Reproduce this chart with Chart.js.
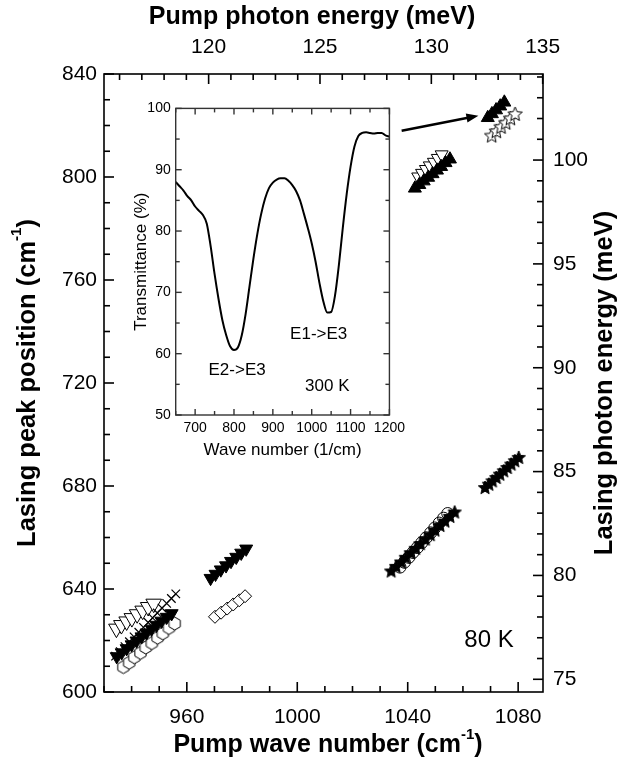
<!DOCTYPE html>
<html>
<head>
<meta charset="utf-8">
<script src="https://cdn.jsdelivr.net/npm/chart.js@4.4.1/dist/chart.umd.min.js"></script>
<style>
  html, body { margin: 0; padding: 0; background: #fff; }
  #wrap { position: relative; width: 621px; height: 764px; }
  #main { position: absolute; left: 0; top: 0; }
  #inset { position: absolute; left: 120px; top: 95px; }
</style>
</head>
<body>
<div id="wrap">
  <canvas id="main" width="621" height="764"></canvas>
  <canvas id="inset" width="290" height="375"></canvas>
</div>
<script>
const cmToMeV = 0.12398

// pump wave number (cm-1) -> lasing peak (cm-1), 80 K
const hexX = [937.0, 939.1, 941.0, 943.2, 945.1, 947.3, 949.4, 951.3, 953.5, 955.6]
const hexY = [609.7, 611.4, 613.5, 615.2, 617.3, 619.0, 621.1, 622.8, 624.9, 626.6]
const downFilledAX = [934.6, 936.4, 938.2, 940.0, 941.8, 943.6, 945.4, 947.2, 949.0, 950.8, 952.7, 954.5]
const downFilledAY = [613.8, 615.3, 616.9, 618.4, 619.9, 621.5, 623.0, 624.5, 626.0, 627.6, 629.1, 630.5]
const downOpenAX = [934.5, 936.3, 938.2, 940.1, 942.0, 944.0, 946.0, 948.0]
const downOpenAY = [624.6, 626.0, 627.4, 628.7, 630.2, 631.6, 633.0, 634.3]
const crossAX = [934.2, 935.9, 937.6, 939.2, 940.9, 942.6, 944.3, 946.0, 947.6, 949.3, 951.0, 952.7, 954.4, 956.0]
const crossAY = [613.9, 615.7, 617.6, 619.5, 621.4, 623.2, 625.1, 627.0, 628.8, 630.7, 632.6, 634.4, 636.3, 638.1]
const downFilledBX = [968.6, 970.4, 972.3, 974.2, 976.0, 977.9, 979.7, 981.5]
const downFilledBY = [644.2, 645.8, 647.5, 649.1, 650.8, 652.4, 654.0, 655.6]
const diamondX = [970.2, 972.4, 974.6, 976.8, 979.0, 981.1]
const diamondY = [629.2, 630.8, 632.4, 634.0, 635.6, 637.2]
const starCX = [1034.0, 1035.8, 1037.6, 1039.3, 1041.1, 1042.9, 1044.6, 1046.4, 1048.2, 1049.9, 1051.7, 1053.5, 1055.3, 1057.0]
const starCY = [647.2, 649.0, 650.7, 652.5, 654.3, 656.0, 657.8, 659.6, 661.3, 663.1, 664.9, 666.6, 668.4, 670.1]
const circleX = [1037.2, 1038.8, 1040.4, 1041.9, 1043.5, 1045.1, 1046.7, 1048.3, 1049.8, 1051.4, 1053.0, 1054.5]
const circleY = [648.5, 650.4, 652.3, 654.2, 656.1, 658.0, 659.9, 661.8, 663.7, 665.6, 667.5, 669.3]
const starDX = [1068.0, 1069.4, 1070.7, 1072.1, 1073.4, 1074.8, 1076.1, 1077.5, 1078.8, 1080.2]
const starDY = [679.6, 680.9, 682.2, 683.5, 684.8, 686.1, 687.4, 688.7, 690.0, 691.3]
const upEX = [1042.6, 1044.2, 1045.8, 1047.4, 1049.0, 1050.6, 1052.1, 1053.7, 1055.3]
const upEY = [795.6, 797.0, 798.4, 799.8, 801.2, 802.6, 804.0, 805.5, 806.9]
const downOpenEX = [1043.8, 1045.2, 1046.6, 1048.0, 1049.5, 1050.9, 1052.3]
const downOpenEY = [800.1, 801.5, 803.0, 804.4, 805.8, 807.3, 808.7]
const upFX = [1069.0, 1070.5, 1072.0, 1073.5, 1075.0]
const upFY = [823.0, 824.5, 826.0, 827.5, 829.0]
const starFX = [1070.4, 1072.1, 1073.8, 1075.5, 1077.2, 1078.9]
const starFY = [816.3, 818.0, 819.7, 821.3, 823.0, 824.7]
const arrowFrom = [1037.8, 818.0]
const arrowTo = [1065.6, 823.8]

const xTicks = [960, 1000, 1040, 1080]
const yTicks = [600, 640, 680, 720, 760, 800, 840]
const topTicks = [120, 125, 130, 135]
const rightTicks = [75, 80, 85, 90, 95, 100]

// inset: transmittance at 300 K
const waveNum = [650, 660, 670, 680, 690, 700, 710, 720, 730, 740, 750, 760, 770, 780, 790, 800,
  810, 820, 830, 840, 850, 860, 870, 880, 890, 900, 910, 920, 930, 940, 950, 960, 970, 980, 990,
  1000, 1010, 1020, 1030, 1040, 1050, 1060, 1070, 1080, 1090, 1100, 1110, 1120, 1130, 1140, 1150,
  1160, 1170, 1180, 1190, 1200]
const transmit = [88.0, 87.3, 86.6, 85.7, 85.0, 84.0, 83.3, 82.6, 81.2, 77.5, 73.0, 69.0, 65.5, 63.0, 61.2, 60.6,
  61.0, 63.0, 66.5, 71.0, 75.5, 79.5, 82.8, 85.3, 87.0, 87.9, 88.4, 88.6, 88.6, 88.2, 87.5, 86.5, 85.0, 82.8, 80.5,
  78.0, 75.0, 71.5, 68.5, 66.7, 66.8, 69.5, 74.5, 80.5, 86.0, 90.5, 93.8, 95.5, 96.0, 96.1, 96.0,
  95.9, 96.0, 96.0, 95.6, 95.4]
const insetXTicks = [700, 800, 900, 1000, 1100, 1200]
const insetYTicks = [50, 60, 70, 80, 90, 100]

const FONT = '"Liberation Sans", Arial, Helvetica, sans-serif'
Chart.defaults.font.family = FONT
Chart.defaults.color = '#000'

function pts(xs, ys) {
  return xs.map((x, i) => ({ x: x, y: ys[i] }))
}

function hexagon(r) {
  const c = document.createElement('canvas')
  const s = Math.ceil(2 * r + 4)
  c.width = c.height = s
  const g = c.getContext('2d')
  g.translate(s / 2, s / 2)
  g.beginPath()
  for (let i = 0; i < 6; i++) {
    const a = Math.PI / 3 * i + Math.PI / 6
    g.lineTo(r * Math.cos(a), r * Math.sin(a))
  }
  g.closePath()
  g.fillStyle = '#fff'
  g.fill()
  g.lineWidth = 1
  g.strokeStyle = '#000'
  g.stroke()
  return c
}

function star(r, filled) {
  const c = document.createElement('canvas')
  const s = Math.ceil(2 * r + 4)
  c.width = c.height = s
  const g = c.getContext('2d')
  g.translate(s / 2, s / 2 + 1)
  g.beginPath()
  for (let i = 0; i < 10; i++) {
    const rr = i % 2 ? r * 0.45 : r
    const a = -Math.PI / 2 + i * Math.PI / 5
    g.lineTo(rr * Math.cos(a), rr * Math.sin(a))
  }
  g.closePath()
  g.fillStyle = filled ? '#000' : '#fff'
  g.fill()
  g.lineWidth = 1
  g.strokeStyle = '#000'
  g.stroke()
  return c
}

function afterTicks(list) {
  return function (scale) { scale.ticks = list.map(v => ({ value: v })) }
}

// box with inward ticks on every side
function frameTicks(cfg) {
  return {
    id: 'frameTicks',
    afterDraw(chart) {
      const ctx = chart.ctx
      const a = chart.chartArea
      ctx.save()
      ctx.strokeStyle = cfg.color
      ctx.lineWidth = cfg.width
      for (const s of cfg.sides) {
        const scale = chart.scales[s.scale]
        const k0 = Math.ceil(s.from / s.minor - 1e-6)
        const k1 = Math.floor(s.to / s.minor + 1e-6)
        for (let k = k0; k <= k1; k++) {
          const v = k * s.minor
          const r = v / s.major
          const len = Math.abs(r - Math.round(r)) < 1e-6 ? cfg.majorLen : cfg.minorLen
          const p = scale.getPixelForValue(v)
          ctx.beginPath()
          if (s.edge === 'bottom') { ctx.moveTo(p, a.bottom); ctx.lineTo(p, a.bottom - len) }
          if (s.edge === 'top') { ctx.moveTo(p, a.top); ctx.lineTo(p, a.top + len) }
          if (s.edge === 'left') { ctx.moveTo(a.left, p); ctx.lineTo(a.left + len, p) }
          if (s.edge === 'right') { ctx.moveTo(a.right, p); ctx.lineTo(a.right - len, p) }
          ctx.stroke()
        }
      }
      ctx.strokeRect(a.left, a.top, a.right - a.left, a.bottom - a.top)
      ctx.restore()
    }
  }
}

function drawTitle(ctx, t, x0, y0) {
  ctx.save()
  ctx.translate(x0, y0)
  ctx.rotate(t.rot || 0)
  ctx.fillStyle = '#000'
  ctx.textBaseline = 'middle'
  ctx.textAlign = 'left'
  const big = (t.weight || 'bold') + ' ' + t.size + 'px ' + FONT
  const small = (t.weight || 'bold') + ' ' + Math.round(t.size * 0.6) + 'px ' + FONT
  ctx.font = big
  const w1 = ctx.measureText(t.text).width
  const w3 = t.tail ? ctx.measureText(t.tail).width : 0
  ctx.font = small
  const w2 = t.sup ? ctx.measureText(t.sup).width : 0
  let x = -(w1 + w2 + w3) / 2
  ctx.font = big
  ctx.fillText(t.text, x, 0)
  x += w1
  if (t.sup) {
    ctx.font = small
    ctx.fillText(t.sup, x, -t.size * 0.42)
    x += w2
  }
  if (t.tail) {
    ctx.font = big
    ctx.fillText(t.tail, x, 0)
  }
  ctx.restore()
}

function texts(items) {
  return {
    id: 'texts',
    afterDraw(chart) {
      for (const t of items) {
        let x = t.x, y = t.y
        if (t.at) {
          x = chart.scales.x.getPixelForValue(t.at[0])
          y = chart.scales.y.getPixelForValue(t.at[1])
        }
        drawTitle(chart.ctx, t, x, y)
      }
    }
  }
}

const arrow = {
  id: 'arrow',
  afterDatasetsDraw(chart) {
    const { ctx, scales } = chart
    const x1 = scales.x.getPixelForValue(arrowFrom[0]), y1 = scales.y.getPixelForValue(arrowFrom[1])
    const x2 = scales.x.getPixelForValue(arrowTo[0]), y2 = scales.y.getPixelForValue(arrowTo[1])
    const ang = Math.atan2(y2 - y1, x2 - x1)
    ctx.save()
    ctx.strokeStyle = '#000'
    ctx.fillStyle = '#000'
    ctx.lineWidth = 2.5
    ctx.beginPath()
    ctx.moveTo(x1, y1)
    ctx.lineTo(x2 - 8 * Math.cos(ang), y2 - 8 * Math.sin(ang))
    ctx.stroke()
    ctx.translate(x2, y2)
    ctx.rotate(ang)
    ctx.beginPath()
    ctx.moveTo(0, 0)
    ctx.lineTo(-12, -4.5)
    ctx.lineTo(-12, 4.5)
    ctx.closePath()
    ctx.fill()
    ctx.restore()
  }
}

const tickFont = { size: 21 }
const numLabel = v => String(v)

new Chart(document.getElementById('main'), {
  type: 'scatter',
  data: {
    datasets: [
      { data: pts(crossAX, crossAY), pointStyle: 'crossRot', pointRadius: 6, pointBorderColor: '#000', pointBorderWidth: 1.2 },
      { data: pts(downFilledAX, downFilledAY), pointStyle: 'triangle', pointRotation: 180, pointRadius: 7.5, pointBackgroundColor: '#000', pointBorderColor: '#000', pointBorderWidth: 1 },
      { data: pts(downOpenAX, downOpenAY), pointStyle: 'triangle', pointRotation: 180, pointRadius: 9, pointBackgroundColor: '#fff', pointBorderColor: '#000', pointBorderWidth: 1 },
      { data: pts(hexX, hexY), pointStyle: hexagon(6.5), pointBorderColor: '#000' },
      { data: pts(downFilledBX, downFilledBY), pointStyle: 'triangle', pointRotation: 180, pointRadius: 7.5, pointBackgroundColor: '#000', pointBorderColor: '#000', pointBorderWidth: 1 },
      { data: pts(diamondX, diamondY), pointStyle: 'rectRot', pointRadius: 6.5, pointBackgroundColor: '#fff', pointBorderColor: '#000', pointBorderWidth: 1 },
      { data: pts(circleX, circleY), pointStyle: 'circle', pointRadius: 6, pointBackgroundColor: 'rgba(0,0,0,0)', pointBorderColor: '#000', pointBorderWidth: 1 },
      { data: pts(starCX, starCY), pointStyle: star(7, true), pointBorderColor: '#000' },
      { data: pts(starDX, starDY), pointStyle: star(7, true), pointBorderColor: '#000' },
      { data: pts(upEX, upEY), pointStyle: 'triangle', pointRadius: 7.5, pointBackgroundColor: '#000', pointBorderColor: '#000', pointBorderWidth: 1 },
      { data: pts(downOpenEX, downOpenEY), pointStyle: 'triangle', pointRotation: 180, pointRadius: 7.5, pointBackgroundColor: '#fff', pointBorderColor: '#000', pointBorderWidth: 1 },
      { data: pts(upFX, upFY), pointStyle: 'triangle', pointRadius: 7.5, pointBackgroundColor: '#000', pointBorderColor: '#000', pointBorderWidth: 1 },
      { data: pts(starFX, starFY), pointStyle: star(7.5, false), pointBorderColor: '#000' }
    ]
  },
  options: {
    responsive: false,
    animation: false,
    events: [],
    layout: { padding: 0 },
    plugins: {
      legend: { display: false },
      tooltip: { enabled: false }
    },
    scales: {
      x: {
        type: 'linear', position: 'bottom', min: 930, max: 1089,
        afterBuildTicks: afterTicks(xTicks),
        afterFit: s => { s.height = 72 },
        grid: { display: false, drawTicks: false }, border: { display: false },
        ticks: { font: tickFont, padding: 13, autoSkip: false, maxRotation: 0, callback: numLabel }
      },
      x2: {
        type: 'linear', position: 'top', min: 930 * cmToMeV, max: 1089 * cmToMeV,
        afterBuildTicks: afterTicks(topTicks),
        afterFit: s => { s.height = 74 },
        grid: { display: false, drawTicks: false }, border: { display: false },
        ticks: { font: tickFont, padding: 14, autoSkip: false, maxRotation: 0, callback: numLabel }
      },
      y: {
        type: 'linear', position: 'left', min: 600, max: 840,
        afterBuildTicks: afterTicks(yTicks),
        afterFit: s => { s.width = 104 },
        grid: { display: false, drawTicks: false }, border: { display: false },
        ticks: { font: tickFont, padding: 7, autoSkip: false, callback: numLabel }
      },
      y2: {
        type: 'linear', position: 'right', min: 600 * cmToMeV, max: 840 * cmToMeV,
        afterBuildTicks: afterTicks(rightTicks),
        afterFit: s => { s.width = 78 },
        grid: { display: false, drawTicks: false }, border: { display: false },
        ticks: { font: tickFont, padding: 10, autoSkip: false, callback: numLabel }
      }
    }
  },
  plugins: [
    frameTicks({
      color: '#000', width: 1.6, majorLen: 10, minorLen: 6,
      sides: [
        { scale: 'x', edge: 'bottom', from: 930, to: 1089, major: 40, minor: 10 },
        { scale: 'y', edge: 'left', from: 600, to: 840, major: 40, minor: 10 },
        { scale: 'x2', edge: 'top', from: 116, to: 135, major: 5, minor: 1 },
        { scale: 'y2', edge: 'right', from: 75, to: 104, major: 5, minor: 1 }
      ]
    }),
    texts([
      { text: 'Pump photon energy (meV)', x: 312, y: 17, size: 25 },
      { text: 'Pump wave number (cm', sup: '-1', tail: ')', x: 328, y: 745, size: 25 },
      { text: 'Lasing peak position (cm', sup: '-1', tail: ')', x: 28, y: 383, size: 25.5, rot: -Math.PI / 2 },
      { text: 'Lasing photon energy (meV)', x: 605, y: 383, size: 25.5, rot: -Math.PI / 2 },
      { text: '80 K', x: 489, y: 640, size: 24, weight: 'normal' }
    ]),
    arrow
  ]
})

new Chart(document.getElementById('inset'), {
  type: 'line',
  data: {
    datasets: [{
      data: pts(waveNum, transmit),
      borderColor: '#000',
      borderWidth: 2,
      pointRadius: 0,
      cubicInterpolationMode: 'monotone'
    }]
  },
  options: {
    responsive: false,
    animation: false,
    events: [],
    layout: { padding: { top: 10, right: 19, left: 0, bottom: 0 } },
    plugins: {
      legend: { display: false },
      tooltip: { enabled: false }
    },
    scales: {
      x: {
        type: 'linear', min: 650, max: 1200,
        afterBuildTicks: afterTicks(insetXTicks),
        afterFit: s => { s.height = 55 },
        grid: { display: false, drawTicks: false }, border: { display: false },
        ticks: { font: { size: 14 }, padding: 5, autoSkip: false, maxRotation: 0, callback: numLabel },
        title: { display: true, text: 'Wave number (1/cm)', font: { size: 17 }, padding: { top: 0, bottom: 9 } }
      },
      y: {
        type: 'linear', min: 50, max: 100,
        afterBuildTicks: afterTicks(insetYTicks),
        afterFit: s => { s.width = 55.7 },
        grid: { display: false, drawTicks: false }, border: { display: false },
        ticks: { font: { size: 14 }, padding: 5, autoSkip: false, callback: numLabel },
        title: { display: true, text: 'Transmittance (%)', font: { size: 17 }, padding: { top: 11, bottom: 0 } }
      }
    }
  },
  plugins: [
    frameTicks({
      color: '#333', width: 1.4, majorLen: 6, minorLen: 4,
      sides: [
        { scale: 'x', edge: 'bottom', from: 650, to: 1200, major: 100, minor: 50 },
        { scale: 'x', edge: 'top', from: 650, to: 1200, major: 100, minor: 50 },
        { scale: 'y', edge: 'left', from: 50, to: 100, major: 10, minor: 5 },
        { scale: 'y', edge: 'right', from: 50, to: 100, major: 10, minor: 5 }
      ]
    }),
    texts([
      { text: 'E2->E3', at: [808, 57.3], size: 17, weight: 'normal' },
      { text: 'E1->E3', at: [1018, 63.2], size: 17, weight: 'normal' },
      { text: '300 K', at: [1040, 54.6], size: 17, weight: 'normal' }
    ])
  ]
})
</script>
</body>
</html>
